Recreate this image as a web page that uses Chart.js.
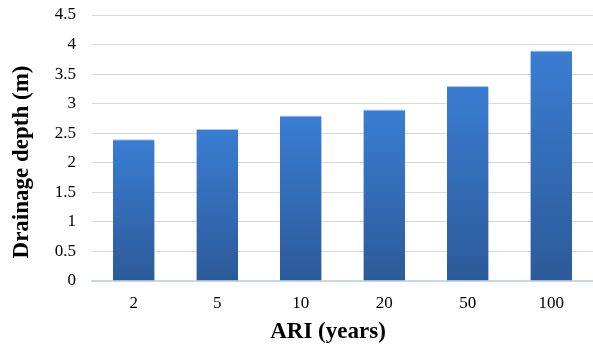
<!DOCTYPE html>
<html>
<head>
<meta charset="utf-8">
<script src="https://cdn.jsdelivr.net/npm/chart.js@4"></script>
<style>
  html, body { margin: 0; padding: 0; background: #ffffff; }
  #wrap { width: 593px; height: 350px; position: relative; }
</style>
</head>
<body>
<div id="wrap"><canvas id="chart"></canvas></div>
<script>
const categories = ['2', '5', '10', '20', '50', '100'];
const depthValues = [2.4, 2.57, 2.8, 2.9, 3.3, 3.9];
const yTicks = [0, 0.5, 1, 1.5, 2, 2.5, 3, 3.5, 4, 4.5];

const xTitle = 'ARI (years)';
const yTitle = 'Drainage depth (m)';

const serif = '"Liberation Serif", "Times New Roman", serif';

// vertical gradient per bar, lighter at the top
function barFill(ctx) {
  const chart = ctx.chart;
  const y = chart.scales && chart.scales.y;
  if (!y || !chart.chartArea || ctx.type !== 'data') return '#3471c0';
  const top = y.getPixelForValue(ctx.raw);
  const base = y.getPixelForValue(0);
  const g = chart.ctx.createLinearGradient(0, top, 0, base);
  g.addColorStop(0, '#3a7dd2');
  g.addColorStop(1, '#2c5a99');
  return g;
}

// axis titles sit a little off the plot centre in the original, so draw them here
const axisTitles = {
  id: 'axisTitles',
  afterDraw(chart) {
    const c = chart.ctx;
    c.save();
    c.fillStyle = '#000';
    c.font = 'bold 23px ' + serif;
    c.textAlign = 'center';
    c.textBaseline = 'alphabetic';
    c.fillText(xTitle, 328, 338);
    c.translate(28, 162);
    c.rotate(-Math.PI / 2);
    c.fillText(yTitle, 0, 0);
    c.restore();
  }
};

new Chart(document.getElementById('chart'), {
  type: 'bar',
  data: {
    labels: categories,
    datasets: [{
      label: 'Drainage depth',
      data: depthValues,
      backgroundColor: barFill,
      borderColor: 'rgba(120,160,220,0.6)',
      borderWidth: { top: 1, left: 0, right: 0, bottom: 0 },
      categoryPercentage: 1,
      barPercentage: 0.5
    }]
  },
  options: {
    responsive: true,
    maintainAspectRatio: false,
    animation: false,
    layout: { padding: { top: 15, right: 0, bottom: 0, left: 0 } },
    plugins: {
      legend: { display: false },
      tooltip: { enabled: false }
    },
    scales: {
      x: {
        afterFit: axis => {
          axis.height = 69;
          axis.paddingLeft = 0;
          axis.paddingRight = 0;
        },
        grid: { display: false, drawTicks: false },
        border: { display: true, color: '#c5d8ef', width: 2 },
        ticks: {
          color: '#000',
          padding: 12,
          font: { family: serif, size: 17 }
        }
      },
      y: {
        min: 0,
        max: 4.5,
        afterFit: axis => {
          axis.width = 92;
          axis.paddingTop = 0;
          axis.paddingBottom = 0;
        },
        afterBuildTicks: axis => { axis.ticks = yTicks.map(v => ({ value: v })); },
        grid: { color: '#d9d9d9', lineWidth: 1, drawTicks: false },
        border: { display: false },
        ticks: {
          color: '#000',
          padding: 16,
          font: { family: serif, size: 17 },
          callback: value => String(value)
        }
      }
    }
  },
  plugins: [axisTitles]
});
</script>
</body>
</html>
